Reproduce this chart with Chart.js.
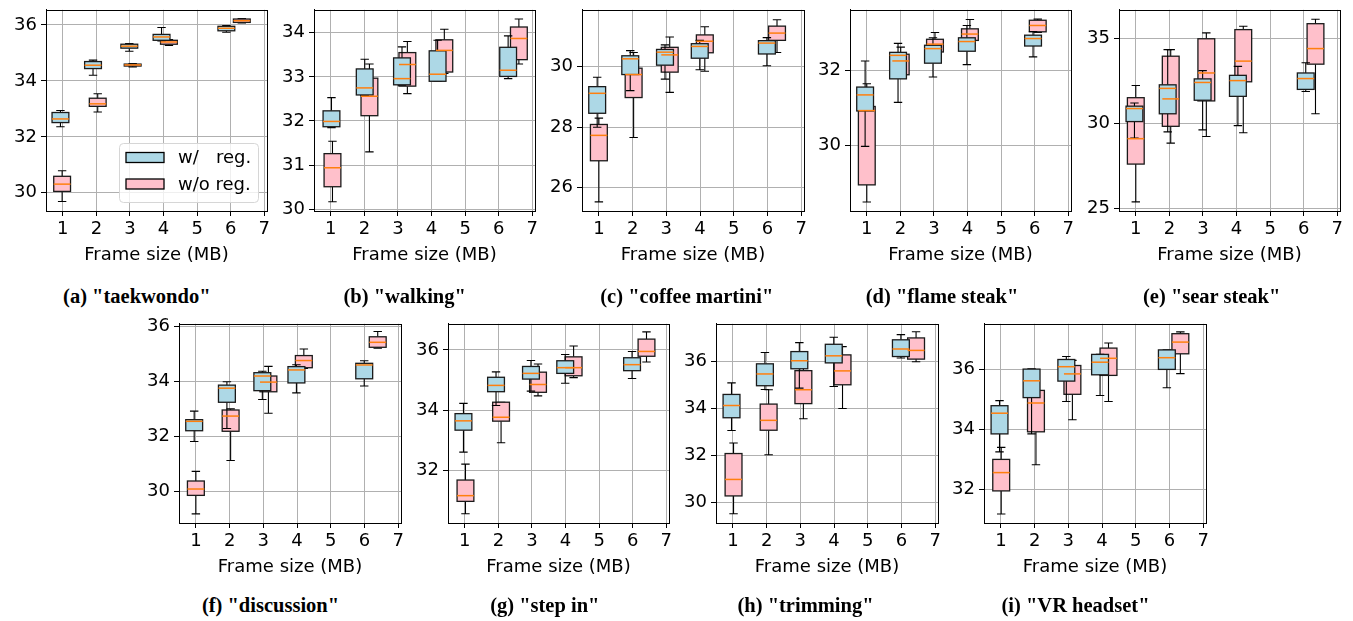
<!DOCTYPE html>
<html><head><meta charset="utf-8">
<script src="https://cdn.jsdelivr.net/npm/chart.js@4.4.1/dist/chart.umd.min.js"></script>
<style>
html,body{margin:0;padding:0;background:#fff;}
#wrap{position:relative;width:1353px;height:621px;overflow:hidden;background:#fff;}
canvas{position:absolute;}
.cap{position:absolute;transform:translate(-50%,-50%);font-family:"Liberation Serif",serif;font-weight:bold;font-size:20.5px;line-height:1;white-space:nowrap;color:#000;}
</style></head><body><div id="wrap"></div>
<script>
// ---------------- DATA ----------------
// stats per box: [lower whisker, Q1, median, Q3, upper whisker]
const captions = ['(a) "taekwondo"','(b) "walking"','(c) "coffee martini"','(d) "flame steak"','(e) "sear steak"','(f) "discussion"','(g) "step in"','(h) "trimming"','(i) "VR headset"'];
const seriesLabels = ['w/   reg.', 'w/o reg.'];
const xTickStep = 1;

const taekwondoRegPos = [0.93, 1.90, 2.98, 3.94, 5.87];
const taekwondoRegStats = [[32.36,32.51,32.64,32.87,32.94],[34.20,34.44,34.56,34.69,34.74],[35.06,35.17,35.24,35.31,35.33],[35.43,35.45,35.57,35.66,35.91],[35.74,35.79,35.88,35.95,35.98]];
const taekwondoNoPos = [0.98, 2.04, 3.08, 4.16, 6.33];
const taekwondoNoStats = [[29.69,30.05,30.31,30.59,30.79],[32.89,33.09,33.18,33.38,33.54],[34.50,34.53,34.57,34.60,34.62],[35.27,35.31,35.39,35.45,35.48],[36.07,36.09,36.15,36.21,36.23]];

const walkingRegPos = [1.02, 2.01, 3.12, 4.18, 6.28];
const walkingRegStats = [[31.85,31.87,31.99,32.23,32.53],[32.58,32.59,32.75,33.18,33.40],[32.81,32.82,32.96,33.43,33.68],[32.90,32.90,33.06,33.59,33.83],[32.96,33.01,33.15,33.67,33.93]];
const walkingNoPos = [1.05, 2.15, 3.28, 4.38, 6.60];
const walkingNoStats = [[30.17,30.51,30.94,31.26,31.54],[31.30,32.12,32.56,32.97,33.29],[32.62,32.79,33.28,33.55,33.80],[33.08,33.11,33.60,33.84,34.08],[33.29,33.39,33.87,34.13,34.31]];

const coffeeRegPos = [0.95, 1.93, 2.96, 3.99, 5.98];
const coffeeRegStats = [[28.00,28.46,29.12,29.34,29.65],[29.21,29.74,30.26,30.36,30.53],[29.59,30.05,30.48,30.57,30.72],[29.90,30.28,30.67,30.76,30.87],[30.03,30.42,30.78,30.86,30.96]];
const coffeeNoPos = [1.00, 2.03, 3.10, 4.14, 6.28];
const coffeeNoStats = [[25.53,26.89,27.73,28.09,28.30],[27.66,28.98,29.74,29.95,30.47],[29.15,29.82,30.39,30.64,30.98],[29.85,30.46,30.84,31.05,31.32],[30.47,30.87,31.11,31.34,31.55]];

const flameRegPos = [0.95, 1.93, 2.97, 3.98, 5.95];
const flameRegStats = [[29.97,30.92,31.35,31.56,32.26],[31.15,31.78,32.41,32.49,32.73],[31.83,32.20,32.59,32.68,32.88],[32.16,32.52,32.78,32.88,33.21],[32.37,32.66,32.86,32.95,33.05]];
const flameNoPos = [1.00, 2.01, 3.03, 4.07, 6.09];
const flameNoStats = [[28.48,28.94,30.93,31.04,31.65],[31.88,31.89,32.26,32.44,32.63],[32.48,32.50,32.71,32.84,33.02],[32.79,32.81,32.98,33.12,33.37],[33.02,33.04,33.21,33.35,33.38]];

const searRegPos = [0.96, 1.95, 2.99, 4.04, 6.06];
const searRegStats = [[29.14,30.11,30.88,31.02,31.21],[29.50,30.57,32.07,32.28,34.36],[29.62,31.37,32.42,32.63,33.12],[29.87,31.60,32.53,32.84,33.37],[31.89,32.01,32.65,32.98,33.58]];
const searNoPos = [1.00, 2.04, 3.10, 4.20, 6.35];
const searNoStats = [[25.37,27.60,29.10,31.52,32.24],[28.84,29.83,31.45,33.97,34.36],[29.23,31.33,32.98,35.00,35.35],[29.45,32.46,33.68,35.54,35.74],[30.57,33.50,34.42,35.89,36.15]];

const discussionRegPos = [0.95, 1.92, 2.97, 3.98, 5.99];
const discussionRegStats = [[31.82,32.21,32.55,32.61,32.92],[32.29,33.24,33.75,33.86,33.98],[33.34,33.66,34.19,34.31,34.36],[33.58,33.94,34.41,34.53,34.60],[33.83,34.09,34.59,34.65,34.74]];
const discussionNoPos = [1.00, 2.03, 3.15, 4.20, 6.39];
const discussionNoStats = [[29.20,29.87,30.10,30.39,30.74],[31.13,32.19,32.74,32.96,33.00],[32.84,33.62,33.97,34.19,34.54],[34.46,34.49,34.75,34.93,35.17],[35.20,35.23,35.41,35.61,35.80]];

const stepRegPos = [0.96, 1.93, 2.97, 3.99, 5.98];
const stepRegStats = [[32.60,33.33,33.64,33.88,34.22],[34.15,34.61,34.82,35.09,35.27],[34.63,35.03,35.22,35.45,35.65],[34.89,35.22,35.41,35.64,35.85],[35.05,35.31,35.51,35.74,35.95]];
const stepNoPos = [1.02, 2.08, 3.18, 4.24, 6.41];
const stepNoStats = [[30.55,30.96,31.15,31.67,32.20],[32.91,33.63,33.76,34.26,34.26],[34.47,34.59,34.85,35.26,35.53],[35.08,35.14,35.41,35.77,36.13],[35.60,35.79,35.95,36.36,36.60]];

const trimRegPos = [0.96, 1.95, 2.97, 3.99, 5.98];
const trimRegStats = [[33.07,33.61,34.13,34.60,35.09],[34.81,34.97,35.47,35.90,36.38],[34.87,35.69,36.03,36.42,36.80],[34.94,35.94,36.24,36.73,37.03],[36.15,36.21,36.53,36.92,37.14]];
const trimNoPos = [1.02, 2.06, 3.09, 4.25, 6.43];
const trimNoStats = [[29.53,30.29,30.99,32.09,32.54],[32.04,33.08,33.50,34.19,34.80],[33.57,34.21,34.80,35.61,36.15],[34.00,35.01,35.60,36.28,36.63],[35.99,36.10,36.47,37.00,37.26]];

const vrRegPos = [0.96, 1.91, 2.94, 3.94, 5.92];
const vrRegStats = [[33.25,33.85,34.54,34.79,34.96],[33.85,35.06,35.62,36.01,36.02],[34.93,35.61,36.09,36.33,36.43],[35.13,35.82,36.24,36.50,36.50],[35.39,36.00,36.39,36.65,36.65]];
const vrNoPos = [1.01, 2.04, 3.12, 4.19, 6.32];
const vrNoStats = [[31.18,31.95,32.56,33.00,33.40],[32.82,33.92,34.88,35.30,35.30],[34.32,35.17,35.85,36.13,36.30],[34.93,35.80,36.37,36.71,36.88],[35.86,36.52,36.91,37.19,37.25]];

// y axis ranges and tick steps per panel
const yMins  = [29.35, 29.96, 25.23, 28.24, 24.83, 28.87, 30.24, 29.14, 30.88];
const yMaxs  = [36.54, 34.52, 31.88, 33.63, 36.71, 36.08, 36.87, 37.60, 37.52];
const ySteps = [2, 1, 2, 2, 5, 2, 2, 2, 2];
const xMin = 0.5, xMax = 7.08;

// ---------------- LAYOUT ----------------
const layout = [
  {L:46,  T:7,   W:221, H:204, cx:136.8, cy:296},
  {L:314, T:7,   W:221, H:204, cx:404.7, cy:296},
  {L:582, T:7,   W:222, H:204, cx:686.8, cy:296},
  {L:850, T:7,   W:221, H:204, cx:942,   cy:296},
  {L:1119,T:7,   W:221, H:204, cx:1211.7,cy:296},
  {L:179, T:321, W:222, H:202, cx:270.5, cy:605},
  {L:448, T:321, W:221, H:202, cx:544.8, cy:605},
  {L:716, T:321, W:222, H:202, cx:805.5, cy:605},
  {L:984, T:321, W:222, H:202, cx:1075.5,cy:605}
];
const panelData = [
  [taekwondoRegPos, taekwondoRegStats, taekwondoNoPos, taekwondoNoStats],
  [walkingRegPos, walkingRegStats, walkingNoPos, walkingNoStats],
  [coffeeRegPos, coffeeRegStats, coffeeNoPos, coffeeNoStats],
  [flameRegPos, flameRegStats, flameNoPos, flameNoStats],
  [searRegPos, searRegStats, searNoPos, searNoStats],
  [discussionRegPos, discussionRegStats, discussionNoPos, discussionNoStats],
  [stepRegPos, stepRegStats, stepNoPos, stepNoStats],
  [trimRegPos, trimRegStats, trimNoPos, trimNoStats],
  [vrRegPos, vrRegStats, vrNoPos, vrNoStats]
];

const BLUE = '#add8e6', PINK = '#ffc0cb', ORANGE = '#ff7f0e';
const BOX_W = 0.5;
const FONT = 'DejaVu Sans';
const FS = 18;

const boxPlugin = {
  id: 'boxes',
  afterDatasetsDraw(chart) {
    const ctx = chart.ctx, xs = chart.scales.x, ys = chart.scales.y;
    const dsets = chart.data.datasets;
    ctx.save();
    ctx.lineCap = 'butt';
    for (const ds of dsets) {
      for (const pt of ds.data) {
        const s = pt.s;
        const xc = xs.getPixelForValue(pt.x);
        const xl = xs.getPixelForValue(pt.x - BOX_W / 2);
        const xr = xs.getPixelForValue(pt.x + BOX_W / 2);
        const cl = xs.getPixelForValue(pt.x - BOX_W / 4);
        const cr = xs.getPixelForValue(pt.x + BOX_W / 4);
        const yLo = ys.getPixelForValue(s[0]), yQ1 = ys.getPixelForValue(s[1]);
        const yQ3 = ys.getPixelForValue(s[3]), yHi = ys.getPixelForValue(s[4]);
        ctx.strokeStyle = '#000'; ctx.lineWidth = 1.1;
        ctx.beginPath();
        ctx.moveTo(xc, yQ1); ctx.lineTo(xc, yLo);
        ctx.moveTo(xc, yQ3); ctx.lineTo(xc, yHi);
        ctx.moveTo(cl, yLo); ctx.lineTo(cr, yLo);
        ctx.moveTo(cl, yHi); ctx.lineTo(cr, yHi);
        ctx.stroke();
        ctx.fillStyle = ds.boxColor;
        ctx.fillRect(xl, yQ3, xr - xl, yQ1 - yQ3);
        ctx.lineWidth = 1.3; ctx.strokeStyle = '#1a1a1a';
        ctx.strokeRect(xl, yQ3, xr - xl, yQ1 - yQ3);
      }
    }
    ctx.strokeStyle = ORANGE; ctx.lineWidth = 1.5;
    for (const ds of dsets) {
      for (const pt of ds.data) {
        const xl = xs.getPixelForValue(pt.x - BOX_W / 2);
        const xr = xs.getPixelForValue(pt.x + BOX_W / 2);
        const ym = ys.getPixelForValue(pt.s[2]);
        ctx.beginPath(); ctx.moveTo(xl, ym); ctx.lineTo(xr, ym); ctx.stroke();
      }
    }
    // top & right spines
    const a = chart.chartArea;
    ctx.strokeStyle = '#000'; ctx.lineWidth = 1;
    ctx.strokeRect(Math.round(a.left) + 0.5, Math.round(a.top) + 0.5, Math.round(a.right - a.left), Math.round(a.bottom - a.top));
    ctx.restore();
  }
};

const legendPlugin = {
  id: 'boxLegend',
  afterDraw(chart) {
    const ctx = chart.ctx, a = chart.chartArea;
    const w = 139, h = 59;
    const x0 = a.right - 9 - w, y0 = a.bottom - 9 - h;
    ctx.save();
    ctx.beginPath();
    ctx.roundRect(x0 + 0.5, y0 + 0.5, w, h, 4);
    ctx.fillStyle = 'rgba(255,255,255,0.8)';
    ctx.fill();
    ctx.strokeStyle = '#d6d6d6'; ctx.lineWidth = 1; ctx.stroke();
    const rows = [[seriesLabels[0], BLUE, 14.5], [seriesLabels[1], PINK, 41]];
    ctx.font = FS + 'px "' + FONT + '"';
    ctx.textBaseline = 'middle';
    for (const [lab, col, dy] of rows) {
      ctx.fillStyle = col;
      ctx.fillRect(x0 + 7, y0 + dy - 5, 38, 10);
      ctx.strokeStyle = '#000'; ctx.lineWidth = 1.3;
      ctx.strokeRect(x0 + 7, y0 + dy - 5, 38, 10);
      ctx.fillStyle = '#000';
      ctx.fillText(lab, x0 + 59, y0 + dy + 1);
    }
    ctx.restore();
  }
};

const wrap = document.getElementById('wrap');
const padL = 50, padT = 12, padR = 14, padB = 62;

layout.forEach((p, i) => {
  const [rp, rs, np, ns] = panelData[i];
  const cv = document.createElement('canvas');
  cv.width = p.W + padL + padR; cv.height = p.H + padT + padB;
  cv.style.left = (p.L - padL) + 'px'; cv.style.top = (p.T - padT) + 'px';
  wrap.appendChild(cv);
  const tickFont = {family: FONT, size: FS};
  new Chart(cv, {
    type: 'scatter',
    data: {datasets: [
      {label: seriesLabels[1], boxColor: PINK, data: np.map((x, k) => ({x: x, y: ns[k][2], s: ns[k]}))},
      {label: seriesLabels[0], boxColor: BLUE, data: rp.map((x, k) => ({x: x, y: rs[k][2], s: rs[k]}))}
    ]},
    options: {
      responsive: false, animation: false, events: [],
      layout: {padding: {left: 0, top: padT, right: padR, bottom: 0}},
      elements: {point: {radius: 0, hoverRadius: 0}},
      plugins: {legend: {display: false}, tooltip: {enabled: false}},
      scales: {
        x: {
          type: 'linear', min: xMin, max: xMax,
          afterFit(s) { s.height = padB; },
          ticks: {stepSize: xTickStep, includeBounds: false, color: '#000', font: tickFont, padding: 3, maxRotation: 0, autoSkip: false},
          grid: {color: '#b0b0b0', lineWidth: 1, tickColor: '#000', tickLength: 5, tickWidth: 1},
          border: {color: '#000', width: 1},
          title: {display: true, text: 'Frame size (MB)', color: '#000', font: {family: FONT, size: FS}, padding: {top: 0, bottom: 7}}
        },
        y: {
          type: 'linear', min: yMins[i], max: yMaxs[i],
          afterFit(s) { s.width = padL; },
          ticks: {stepSize: ySteps[i], includeBounds: false, color: '#000', font: tickFont, padding: 4},
          grid: {color: '#b0b0b0', lineWidth: 1, tickColor: '#000', tickLength: 5, tickWidth: 1},
          border: {color: '#000', width: 1}
        }
      }
    },
    plugins: i === 0 ? [boxPlugin, legendPlugin] : [boxPlugin]
  });
  const cap = document.createElement('div');
  cap.className = 'cap';
  cap.textContent = captions[i];
  cap.style.left = p.cx + 'px'; cap.style.top = p.cy + 'px';
  wrap.appendChild(cap);
});
</script>
</body></html>
